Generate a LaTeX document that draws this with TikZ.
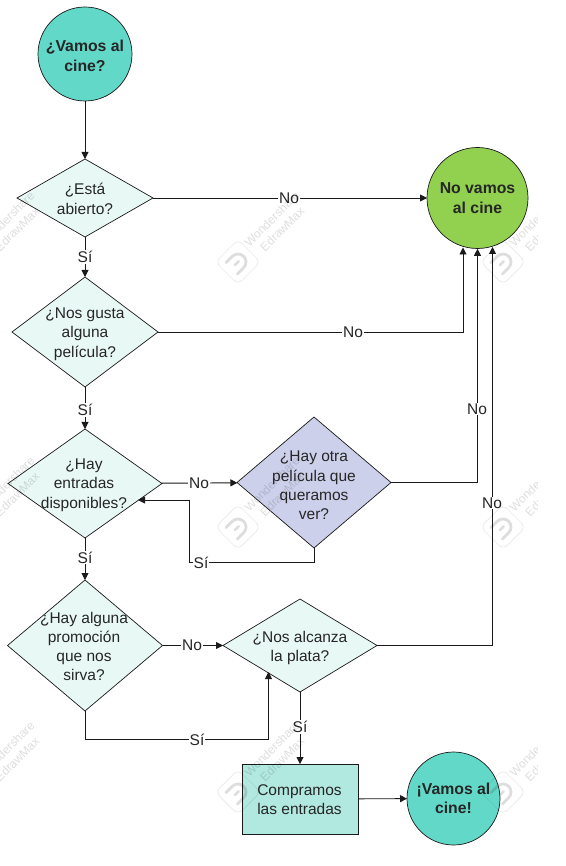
\documentclass[tikz,border=0pt]{standalone}
\usepackage{fontspec}
\setmainfont{Liberation Sans}
\usetikzlibrary{shapes.geometric,arrows.meta}
\definecolor{lineC}{HTML}{1A1A1A}
\definecolor{teal}{HTML}{62D9C8}
\definecolor{grn}{HTML}{92D050}
\definecolor{pale}{HTML}{E8F8F5}
\definecolor{lav}{HTML}{CDD0EA}
\definecolor{boxC}{HTML}{B1E8E0}
\definecolor{txt}{HTML}{262626}
\tikzset{
  x=1pt,y=-1pt,
  every node/.style={font=\fontsize{15.5}{19.3}\selectfont,text=txt,align=center,inner sep=0pt,outer sep=0pt},
  dec/.style={diamond,draw=lineC,line width=.7pt,fill=pale},
  term/.style={circle,draw=lineC,line width=.7pt},
  boldtext/.style={font=\fontsize{15.8}{19.3}\selectfont\bfseries,text=black!85},
  conn/.style={draw=lineC,line width=.9pt},
  arr/.style={conn,-{Triangle[length=7pt,width=7pt]}},
  lab/.style={fill=white,inner xsep=1pt,inner ysep=1pt},
  wmtext/.style={font=\fontsize{12}{14.5}\selectfont,text=black,text opacity=.13,rotate=45},
  wmline/.style={draw=black,draw opacity=.09,line width=.7pt},
  wmglyph/.style={draw=black,draw opacity=.13,line width=2.8pt,line cap=round},
}
\newcommand{\wmark}[2]{%
  \begin{scope}[shift={(#1,#2)}]
    \draw[wmline,rounded corners=6pt] (0,-22.5) -- (22.5,0) -- (0,22.5) -- (-22.5,0) -- cycle;
    \draw[wmglyph,rotate=45] (-9,-8) -- (0,-8) arc[start angle=-90,end angle=90,radius=8] -- (-9,8);
    \draw[wmglyph,rotate=45] (-4,0) -- (1,0);
    \node[wmtext] at (39,-38) {Wondershare\\EdrawMax};
  \end{scope}
}
\begin{document}
\begin{tikzpicture}
\useasboundingbox (0,0) rectangle (565,866);
\fill[white] (0,0) rectangle (565,866);

% Decision nodes
\node[dec,minimum width=136pt,minimum height=78pt,aspect=1.74] (d1) at (85,198) {};
\node[dec,minimum width=146pt,minimum height=110pt,aspect=1.33] (d2) at (85,332) {};
\node[dec,minimum width=154pt,minimum height=109pt,aspect=1.41] (d3) at (85,483.5) {};
\node[dec,fill=lav,minimum width=154pt,minimum height=131pt,aspect=1.18] (d4) at (314,482.5) {};
\node[dec,minimum width=155pt,minimum height=131pt,aspect=1.18] (d5) at (85,645.5) {};
\node[dec,minimum width=154pt,minimum height=93pt,aspect=1.66] (d6) at (300,645.5) {};

% Terminals and box
\node[term,fill=teal,minimum size=94pt] (start) at (85,54) {};
\node[term,fill=grn,minimum size=101pt] (nov) at (477.5,198) {};
\node[term,fill=teal,minimum size=93pt] (fin) at (453.5,798.5) {};
\node[draw=lineC,line width=.7pt,fill=boxC,minimum width=116pt,minimum height=70pt] (buy) at (300,799) {};

% Connectors
\draw[arr] (start) -- (d1);
\draw[arr] (d1) -- (nov);
\draw[arr] (d1) -- (d2);
\draw[arr] (d2) -- (d3);
\draw[arr] (d3) -- (d5);
\draw[arr] (d3) -- (d4);
\draw[arr] (d5) -- (d6);
\draw[arr] (d6) -- (buy);
\draw[arr] (buy) -- (fin);
\coordinate (p2) at (463,332);
\coordinate (t2) at (463,247.5);
\draw[arr] (d2.east) -- (p2) -- (t2);
\coordinate (p4) at (477.5,482.5);
\coordinate (t4) at (477.5,248.8);
\draw[arr] (d4.east) -- (p4) -- (t4);
\coordinate (p6) at (492.5,645.5);
\coordinate (t6) at (492.5,247);
\draw[arr] (d6.east) -- (p6) -- (t6);
\coordinate (a1) at (314,562.5);
\coordinate (a2) at (189.5,562.5);
\coordinate (a3) at (189.5,500);
\coordinate (a4) at (138,500);
\draw[arr] (d4.south) -- (a1) -- (a2) -- (a3) -- (a4);
\coordinate (b1) at (85,739.5);
\coordinate (b2) at (268.5,739.5);
\coordinate (b3) at (268.5,672);
\draw[arr] (d5.south) -- (b1) -- (b2) -- (b3);

% Connector labels
\node[lab] at (289,198) {No};
\node[lab] at (353,332) {No};
\node[lab] at (477,409) {No};
\node[lab] at (492,503) {No};
\node[lab] at (199,483.5) {No};
\node[lab] at (192,645.5) {No};
\node[lab] at (85,257) {Sí};
\node[lab] at (85,410) {Sí};
\node[lab] at (85,557.5) {Sí};
\node[lab] at (201,562.5) {Sí};
\node[lab] at (197,739.5) {Sí};
\node[lab] at (300,727) {Sí};

% Node texts
\node[boldtext] at (85,56) {¿Vamos al\\cine?};
\node[boldtext] at (477.5,198) {No vamos\\al cine};
\node[boldtext] at (453.5,798) {¡Vamos al\\cine!};
\node at (85,199) {¿Está\\abierto?};
\node at (85,334) {¿Nos gusta\\alguna\\película?};
\node at (84,485) {¿Hay\\entradas\\disponibles?};
\node at (314,485.5) {¿Hay otra\\película que\\queramos\\ver?};
\node at (84,646.5) {¿Hay alguna\\promoción\\que nos\\sirva?};
\node at (300,648) {¿Nos alcanza\\la plata?};
\node at (299.5,799.5) {Compramos\\las entradas};

% Watermarks
\begin{scope}
\clip (0,0) rectangle (537,866);
\foreach \wx in {-27,238,503}{\foreach \wy in {262,527,792}{\wmark{\wx}{\wy}}}
\end{scope}
\end{tikzpicture}
\end{document}
